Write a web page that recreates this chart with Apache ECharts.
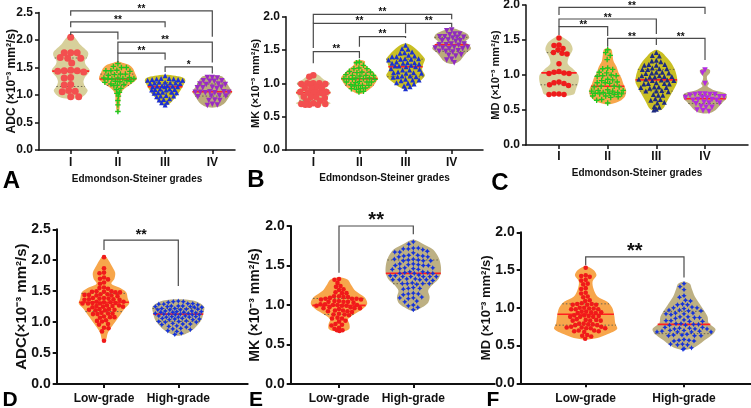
<!DOCTYPE html>
<html><head><meta charset="utf-8">
<script src="https://cdn.jsdelivr.net/npm/echarts@6/dist/echarts.min.js"></script>
<style>html,body{margin:0;padding:0;background:#fff}#c{width:751px;height:408px}</style>
</head><body><div id="c"></div>
<script>
// ---------------- categories ----------------
const gradeLabels = ['I', 'II', 'III', 'IV'];
const lhLabels = ['Low-grade', 'High-grade'];

// ---------------- Panel A: ADC by grade ----------------
const adcI = [2.05, 1.77, 1.77, 1.77, 1.68, 1.67, 1.67, 1.58, 1.45, 1.44, 1.44, 1.43, 1.42, 1.32, 1.31, 1.19, 1.18, 1.08, 1.07, 1.06, 0.97, 0.97];
const adcII = [1.57, 1.52, 1.50, 1.50, 1.45, 1.44, 1.44, 1.43, 1.38, 1.38, 1.37, 1.36, 1.32, 1.31, 1.31, 1.30, 1.30, 1.29, 1.29, 1.26, 1.25, 1.25, 1.24, 1.23, 1.20, 1.19, 1.18, 1.17, 1.12, 1.10, 1.05, 1.03, 0.98, 0.90, 0.82, 0.70];
const adcIII = [1.35, 1.30, 1.30, 1.29, 1.29, 1.28, 1.28, 1.27, 1.27, 1.23, 1.23, 1.22, 1.22, 1.22, 1.21, 1.21, 1.17, 1.17, 1.16, 1.16, 1.15, 1.15, 1.15, 1.11, 1.11, 1.10, 1.10, 1.09, 1.09, 1.05, 1.05, 1.04, 1.04, 1.03, 0.99, 0.98, 0.98, 0.97, 0.93, 0.92, 0.91, 0.87, 0.86, 0.82];
const adcIV = [1.32, 1.32, 1.31, 1.26, 1.26, 1.25, 1.25, 1.20, 1.20, 1.19, 1.19, 1.14, 1.14, 1.13, 1.13, 1.12, 1.06, 1.06, 1.05, 1.05, 1.05, 1.04, 1.04, 0.99, 0.98, 0.98, 0.97, 0.91, 0.90, 0.90, 0.83, 0.82, 0.81];
const adcIShape = [[2.10,0],[2.05,0.08],[2.0,0.13],[1.92,0.2],[1.84,0.3],[1.77,0.37],[1.70,0.36],[1.62,0.3],[1.55,0.32],[1.46,0.4],[1.40,0.38],[1.32,0.3],[1.24,0.27],[1.16,0.3],[1.08,0.36],[1.0,0.3],[0.95,0.2],[0.93,0]];
const adcIIShape = [[1.61,0],[1.58,0.12],[1.54,0.25],[1.48,0.32],[1.40,0.36],[1.32,0.4],[1.27,0.38],[1.20,0.28],[1.14,0.18],[1.08,0.1],[1.0,0.06],[0.9,0.05],[0.8,0.04],[0.72,0.03],[0.67,0]];
const adcIIIShape = [[1.37,0],[1.35,0.22],[1.31,0.4],[1.26,0.43],[1.2,0.4],[1.12,0.35],[1.05,0.3],[0.98,0.24],[0.92,0.18],[0.86,0.12],[0.80,0]];
const adcIVShape = [[1.36,0],[1.34,0.2],[1.28,0.27],[1.2,0.32],[1.12,0.38],[1.06,0.42],[1.0,0.38],[0.92,0.32],[0.85,0.26],[0.79,0.15],[0.77,0]];
// [from, to, top, left leg end, right leg end, label]
const adcBrackets = [[1,4,2.53,2.44,2.06,'**'],[1,3,2.33,2.23,2.23,'**'],[1,2,2.145,2.09,2.01,''],[2,4,1.96,1.76,1.59,'**'],[2,3,1.76,1.59,1.64,'**'],[3,4,1.51,1.42,1.39,'*']];

// ---------------- Panel B: MK by grade ----------------
const mkI = [1.12, 1.10, 1.00, 1.00, 1.00, 0.99, 0.99, 0.99, 0.94, 0.93, 0.93, 0.92, 0.87, 0.87, 0.86, 0.86, 0.86, 0.85, 0.80, 0.79, 0.79, 0.78, 0.74, 0.73, 0.70, 0.69, 0.69, 0.68, 0.68, 0.68];
const mkII = [1.32, 1.31, 1.27, 1.23, 1.22, 1.22, 1.18, 1.17, 1.17, 1.16, 1.13, 1.12, 1.12, 1.12, 1.11, 1.08, 1.08, 1.07, 1.07, 1.07, 1.06, 1.06, 1.03, 1.02, 1.02, 1.02, 1.01, 0.98, 0.97, 0.97, 0.97, 0.96, 0.93, 0.92, 0.92, 0.91, 0.88, 0.87];
const mkIII = [1.57, 1.52, 1.51, 1.47, 1.46, 1.45, 1.42, 1.41, 1.40, 1.40, 1.37, 1.37, 1.36, 1.36, 1.35, 1.32, 1.31, 1.31, 1.30, 1.30, 1.29, 1.27, 1.26, 1.26, 1.25, 1.25, 1.22, 1.21, 1.20, 1.20, 1.17, 1.16, 1.16, 1.15, 1.15, 1.11, 1.11, 1.10, 1.10, 1.09, 1.06, 1.05, 1.05, 1.04, 1.01, 1.00, 0.99, 0.96, 0.95, 0.92];
const mkIV = [1.80, 1.79, 1.74, 1.74, 1.73, 1.70, 1.70, 1.69, 1.69, 1.68, 1.65, 1.64, 1.64, 1.63, 1.59, 1.59, 1.58, 1.58, 1.57, 1.54, 1.54, 1.53, 1.53, 1.52, 1.52, 1.49, 1.48, 1.48, 1.47, 1.43, 1.42, 1.41, 1.36, 1.35, 1.31];
const mkIShape = [[1.15,0],[1.12,0.12],[1.06,0.22],[1.0,0.36],[0.94,0.28],[0.87,0.38],[0.80,0.32],[0.74,0.3],[0.70,0.38],[0.67,0.25],[0.66,0]];
const mkIIShape = [[1.35,0],[1.33,0.12],[1.28,0.12],[1.22,0.22],[1.15,0.32],[1.08,0.4],[1.02,0.36],[0.96,0.3],[0.90,0.2],[0.86,0.1],[0.84,0]];
const mkIIIShape = [[1.60,0],[1.57,0.12],[1.50,0.25],[1.42,0.36],[1.36,0.42],[1.28,0.38],[1.2,0.36],[1.12,0.42],[1.06,0.36],[1.0,0.25],[0.95,0.15],[0.91,0]];
const mkIVShape = [[1.83,0],[1.80,0.15],[1.74,0.34],[1.68,0.38],[1.63,0.3],[1.57,0.38],[1.52,0.42],[1.46,0.32],[1.40,0.25],[1.34,0.18],[1.30,0.08],[1.29,0]];
const mkBrackets = [[1,4,2.035,1.90,1.96,'**'],[1,3,1.90,1.53,1.75,'**'],[3,4,1.90,1.90,1.84,'**'],[2,3,1.70,1.55,1.68,'**'],[1,2,1.475,1.30,1.375,'**']];

// ---------------- Panel C: MD by grade ----------------
const mdI = [1.53, 1.43, 1.42, 1.38, 1.36, 1.32, 1.31, 1.30, 1.16, 1.05, 1.04, 1.03, 1.02, 1.02, 0.90, 0.89, 0.88, 0.86, 0.85, 0.73, 0.73, 0.72, 0.72];
const mdII = [1.36, 1.32, 1.28, 1.22, 1.10, 1.09, 1.08, 1.04, 1.03, 1.00, 0.99, 0.99, 0.98, 0.94, 0.93, 0.92, 0.90, 0.89, 0.89, 0.88, 0.84, 0.84, 0.83, 0.83, 0.79, 0.78, 0.78, 0.77, 0.77, 0.75, 0.75, 0.74, 0.74, 0.73, 0.73, 0.72, 0.70, 0.70, 0.69, 0.68, 0.65, 0.64, 0.60];
const mdIII = [1.32, 1.28, 1.27, 1.21, 1.20, 1.19, 1.15, 1.15, 1.14, 1.14, 1.10, 1.09, 1.09, 1.08, 1.08, 1.04, 1.04, 1.03, 1.03, 1.02, 0.99, 0.99, 0.98, 0.98, 0.97, 0.97, 0.94, 0.94, 0.93, 0.93, 0.92, 0.92, 0.89, 0.88, 0.88, 0.87, 0.87, 0.83, 0.83, 0.82, 0.82, 0.81, 0.78, 0.77, 0.77, 0.76, 0.72, 0.71, 0.71, 0.66, 0.65, 0.64, 0.61, 0.60, 0.55, 0.54, 0.51, 0.50];
const mdIV = [1.07, 1.03, 0.88, 0.73, 0.73, 0.72, 0.72, 0.72, 0.71, 0.69, 0.69, 0.68, 0.68, 0.67, 0.65, 0.65, 0.64, 0.64, 0.61, 0.60, 0.60, 0.59, 0.55, 0.54, 0.54, 0.50, 0.49, 0.48];
const mdIShape = [[1.56,0],[1.52,0.12],[1.45,0.24],[1.36,0.28],[1.25,0.2],[1.16,0.18],[1.08,0.3],[1.0,0.4],[0.9,0.4],[0.8,0.35],[0.72,0.3],[0.70,0]];
const mdIIShape = [[1.39,0],[1.36,0.08],[1.28,0.1],[1.2,0.12],[1.12,0.18],[1.04,0.22],[0.96,0.28],[0.88,0.32],[0.78,0.38],[0.7,0.36],[0.64,0.28],[0.6,0.15],[0.58,0]];
const mdIIIShape = [[1.36,0],[1.32,0.12],[1.26,0.2],[1.18,0.3],[1.08,0.38],[0.98,0.42],[0.9,0.43],[0.82,0.38],[0.72,0.3],[0.62,0.22],[0.54,0.16],[0.50,0.1],[0.49,0]];
const mdIVShape = [[1.10,0],[1.07,0.1],[1.03,0.1],[0.98,0.04],[0.92,0.05],[0.88,0.08],[0.84,0.05],[0.78,0.2],[0.74,0.42],[0.68,0.45],[0.62,0.38],[0.56,0.3],[0.50,0.22],[0.46,0.12],[0.45,0]];
const mdBrackets = [[1,4,1.967,1.857,1.87,'**'],[1,3,1.80,1.69,1.586,'**'],[1,2,1.69,1.571,1.557,'**'],[2,3,1.524,1.404,1.43,'**'],[3,4,1.524,1.524,1.214,'**']];

// ---------------- Panel D: ADC low vs high ----------------
const adcLow = [2.05, 1.87, 1.80, 1.79, 1.72, 1.70, 1.69, 1.64, 1.62, 1.56, 1.55, 1.54, 1.50, 1.50, 1.49, 1.49, 1.48, 1.48, 1.45, 1.45, 1.44, 1.44, 1.43, 1.43, 1.42, 1.39, 1.39, 1.38, 1.38, 1.37, 1.37, 1.36, 1.36, 1.33, 1.33, 1.32, 1.32, 1.31, 1.31, 1.30, 1.30, 1.30, 1.27, 1.27, 1.26, 1.26, 1.25, 1.25, 1.24, 1.21, 1.21, 1.20, 1.20, 1.19, 1.19, 1.15, 1.14, 1.14, 1.13, 1.13, 1.09, 1.08, 1.08, 1.07, 1.03, 1.02, 1.01, 0.97, 0.96, 0.91, 0.90, 0.85, 0.70];
const adcHigh = [1.34, 1.33, 1.33, 1.32, 1.30, 1.30, 1.29, 1.29, 1.28, 1.26, 1.26, 1.26, 1.25, 1.25, 1.25, 1.24, 1.24, 1.22, 1.22, 1.21, 1.21, 1.20, 1.20, 1.20, 1.18, 1.18, 1.17, 1.17, 1.16, 1.16, 1.16, 1.15, 1.14, 1.14, 1.13, 1.13, 1.13, 1.12, 1.12, 1.12, 1.10, 1.10, 1.09, 1.09, 1.08, 1.08, 1.08, 1.06, 1.06, 1.05, 1.05, 1.04, 1.04, 1.02, 1.01, 1.01, 1.00, 1.00, 0.98, 0.97, 0.97, 0.96, 0.94, 0.93, 0.92, 0.90, 0.89, 0.88, 0.86, 0.85, 0.82, 0.80];
const adcLowShape = [[2.08,0],[2.02,0.05],[1.92,0.1],[1.80,0.15],[1.70,0.14],[1.62,0.1],[1.55,0.22],[1.48,0.3],[1.38,0.32],[1.30,0.34],[1.22,0.28],[1.12,0.22],[1.02,0.16],[0.92,0.1],[0.82,0.05],[0.72,0.03],[0.68,0]];
const adcHighShape = [[1.37,0],[1.35,0.2],[1.30,0.3],[1.24,0.35],[1.15,0.34],[1.06,0.32],[0.98,0.28],[0.90,0.22],[0.84,0.15],[0.80,0.08],[0.78,0]];
const adcLHBrackets = [[1,2,2.326,2.165,1.583,'**']];

// ---------------- Panel E: MK low vs high ----------------
const mkLow = [1.33, 1.32, 1.28, 1.24, 1.23, 1.20, 1.19, 1.16, 1.15, 1.15, 1.11, 1.11, 1.10, 1.10, 1.09, 1.08, 1.08, 1.08, 1.07, 1.07, 1.05, 1.05, 1.04, 1.04, 1.04, 1.03, 1.01, 1.01, 1.00, 1.00, 1.00, 0.99, 0.99, 0.99, 0.97, 0.97, 0.96, 0.96, 0.96, 0.95, 0.93, 0.93, 0.92, 0.92, 0.91, 0.89, 0.88, 0.88, 0.87, 0.84, 0.83, 0.83, 0.80, 0.79, 0.76, 0.75, 0.74, 0.71, 0.70, 0.68, 0.68, 0.67];
const mkHigh = [1.80, 1.77, 1.72, 1.72, 1.71, 1.71, 1.70, 1.68, 1.67, 1.67, 1.66, 1.63, 1.63, 1.62, 1.62, 1.61, 1.61, 1.58, 1.58, 1.57, 1.57, 1.56, 1.56, 1.56, 1.52, 1.52, 1.51, 1.51, 1.50, 1.50, 1.50, 1.47, 1.47, 1.46, 1.46, 1.45, 1.45, 1.42, 1.42, 1.41, 1.41, 1.40, 1.40, 1.40, 1.38, 1.37, 1.37, 1.36, 1.36, 1.36, 1.36, 1.36, 1.33, 1.33, 1.32, 1.32, 1.32, 1.32, 1.31, 1.28, 1.27, 1.27, 1.27, 1.27, 1.26, 1.22, 1.21, 1.21, 1.20, 1.15, 1.14, 1.14, 1.13, 1.10, 1.09, 1.09, 1.08, 1.05, 1.04, 1.00, 0.99, 0.97, 0.94];
const mkLowShape = [[1.35,0],[1.32,0.12],[1.26,0.16],[1.18,0.22],[1.10,0.34],[1.02,0.38],[0.95,0.32],[0.88,0.2],[0.82,0.12],[0.76,0.14],[0.70,0.14],[0.67,0.08],[0.66,0]];
const mkHighShape = [[1.83,0],[1.78,0.12],[1.70,0.27],[1.60,0.34],[1.50,0.37],[1.40,0.37],[1.32,0.33],[1.25,0.25],[1.18,0.2],[1.10,0.22],[1.03,0.2],[0.97,0.12],[0.92,0]];
const mkLHBrackets = [[1,2,2.0,1.409,1.895,'**']];

// ---------------- Panel F: MD low vs high ----------------
const mdLow = [1.53, 1.43, 1.42, 1.41, 1.37, 1.36, 1.32, 1.31, 1.26, 1.25, 1.20, 1.19, 1.15, 1.14, 1.10, 1.09, 1.06, 1.05, 1.05, 1.04, 1.04, 1.04, 1.00, 1.00, 0.99, 0.99, 0.98, 0.98, 0.98, 0.95, 0.95, 0.94, 0.94, 0.93, 0.93, 0.90, 0.90, 0.89, 0.89, 0.88, 0.88, 0.88, 0.85, 0.84, 0.84, 0.83, 0.83, 0.83, 0.79, 0.79, 0.78, 0.78, 0.77, 0.77, 0.75, 0.75, 0.74, 0.74, 0.73, 0.73, 0.73, 0.70, 0.70, 0.69, 0.69, 0.68, 0.64, 0.63, 0.62, 0.59];
const mdHigh = [1.32, 1.28, 1.24, 1.16, 1.14, 1.10, 1.09, 1.05, 1.04, 1.04, 1.01, 1.00, 1.00, 0.99, 0.97, 0.97, 0.96, 0.96, 0.93, 0.93, 0.92, 0.92, 0.91, 0.88, 0.88, 0.87, 0.87, 0.86, 0.84, 0.83, 0.83, 0.82, 0.82, 0.79, 0.79, 0.78, 0.78, 0.77, 0.77, 0.74, 0.74, 0.73, 0.73, 0.72, 0.72, 0.72, 0.70, 0.70, 0.69, 0.69, 0.68, 0.68, 0.68, 0.68, 0.65, 0.64, 0.64, 0.63, 0.63, 0.63, 0.58, 0.57, 0.57, 0.56, 0.56, 0.52, 0.52, 0.51, 0.51, 0.47, 0.46, 0.45];
const mdLowShape = [[1.55,0],[1.50,0.08],[1.43,0.11],[1.35,0.07],[1.25,0.08],[1.15,0.12],[1.08,0.22],[1.0,0.27],[0.9,0.29],[0.8,0.3],[0.72,0.32],[0.65,0.22],[0.60,0.12],[0.58,0]];
const mdHighShape = [[1.35,0],[1.32,0.06],[1.25,0.08],[1.15,0.11],[1.05,0.16],[0.97,0.2],[0.88,0.24],[0.8,0.25],[0.72,0.32],[0.66,0.3],[0.58,0.22],[0.52,0.16],[0.47,0.1],[0.44,0]];
const mdLHBrackets = [[1,2,1.675,1.565,1.40,'**']];

// ---------------- styles ----------------
const FONT = "'Liberation Sans', Arial, Helvetica, sans-serif";
const KHAKI = '#d7d09b', ORANGE = '#f7a64b', OLIVE = '#c9bf24', TAN = '#baab7a', TAN2 = '#bdb083';
const PLUS = 'path://M3,0H5V3H8V5H5V8H3V5H0V3H3Z';
const STAR = 'path://M4,0L5.4,2.6L8,4L5.4,5.4L4,8L2.6,5.4L0,4L2.6,2.6Z';

const panels = [
  { L: {left:39, top:12.5, width:196, height:137.5, firstX:70.7, unit:47.2, yMax:2.5, yName:'ADC (×10⁻³ mm²/s)', yNameSize:12, yNameGap:21, tick:12, xl:12, lm:7, xName:'Edmondson-Steiner grades', xNameGap:24, aw:1.5, star:10, starOff:1.7, letter:'A', lx:11.5, ly:181, ls:24},
    cats: gradeLabels, brackets: adcBrackets,
    groups: [
      {vals:adcI, shape:adcIShape, fill:KHAKI, color:'#f34f4f', symbol:'circle', size:7},
      {vals:adcII, shape:adcIIShape, fill:ORANGE, color:'#1ec81e', symbol:PLUS, size:5.5},
      {vals:adcIII, shape:adcIIIShape, fill:OLIVE, color:'#1c2fd6', symbol:'triangle', size:5},
      {vals:adcIV, shape:adcIVShape, fill:TAN, color:'#9a2bc4', symbol:'triangle', rot:180, size:5.5}]},
  { L: {left:286, top:16.7, width:197, height:133.3, firstX:313.3, unit:46.13, yMax:2.0, yName:'MK (×10⁻³ mm²/s)', yNameSize:11, yNameGap:25, tick:12, xl:12, lm:7, xName:'Edmondson-Steiner grades', xNameGap:23, aw:1.5, star:10, starOff:2, letter:'B', lx:256, ly:180, ls:24},
    cats: gradeLabels, brackets: mkBrackets,
    groups: [
      {vals:mkI, shape:mkIShape, fill:KHAKI, color:'#f34f4f', symbol:'circle', size:6.5},
      {vals:mkII, shape:mkIIShape, fill:ORANGE, color:'#1ec81e', symbol:PLUS, size:5.5},
      {vals:mkIII, shape:mkIIIShape, fill:OLIVE, color:'#1a30d0', symbol:'triangle', size:5},
      {vals:mkIV, shape:mkIVShape, fill:TAN, color:'#8f2bbf', symbol:'triangle', rot:180, size:5.5}]},
  { L: {left:526, top:5, width:222, height:140, firstX:559, unit:48.67, yMax:2.0, yName:'MD (×10⁻³ mm²/s)', yNameSize:11, yNameGap:25, tick:12, xl:12, lm:6, xName:'Edmondson-Steiner grades', xNameGap:23, aw:1.5, star:10, starOff:1.2, letter:'C', lx:500, ly:183, ls:24},
    cats: gradeLabels, brackets: mdBrackets,
    groups: [
      {vals:mdI, shape:mdIShape, fill:KHAKI, color:'#ee1c1c', symbol:'circle', size:5.5},
      {vals:mdII, shape:mdIIShape, fill:ORANGE, color:'#1ec81e', symbol:PLUS, size:5.5},
      {vals:mdIII, shape:mdIIIShape, fill:OLIVE, color:'#1d2a80', symbol:'triangle', size:5},
      {vals:mdIV, shape:mdIVShape, fill:TAN, color:'#b32be0', symbol:'triangle', rot:180, size:5.5}]},
  { L: {left:56.7, top:229.3, width:191, height:154.7, firstX:104, unit:74.3, yMax:2.5, yName:'ADC(×10⁻³ mm²/s)', yNameSize:15, yNameGap:27, tick:14, xl:12, lm:9, aw:2, star:14, starOff:5.1, letter:'D', lx:10, ly:400, ls:21},
    cats: lhLabels, brackets: adcLHBrackets,
    groups: [
      {vals:adcLow, shape:adcLowShape, fill:ORANGE, color:'#f01a1a', symbol:'circle', size:4.6},
      {vals:adcHigh, shape:adcHighShape, fill:TAN2, color:'#1432dc', symbol:STAR, size:5.2}]},
  { L: {left:290.7, top:226, width:204, height:158, firstX:339, unit:74.3, yMax:2.0, yName:'MK (×10⁻³ mm²/s)', yNameSize:14, yNameGap:29, tick:14, xl:12, lm:9, aw:2, star:20, starOff:5.4, letter:'E', lx:256, ly:400, ls:21},
    cats: lhLabels, brackets: mkLHBrackets,
    groups: [
      {vals:mkLow, shape:mkLowShape, fill:ORANGE, color:'#f01a1a', symbol:'circle', size:4.6},
      {vals:mkHigh, shape:mkHighShape, fill:TAN2, color:'#1432dc', symbol:STAR, size:5.2}]},
  { L: {left:520.7, top:232.3, width:230, height:151, firstX:585.7, unit:98.3, yMax:2.0, yName:'MD (×10⁻³ mm²/s)', yNameSize:13, yNameGap:28, tick:14, xl:12, lm:9, aw:2, star:20, starOff:5.4, letter:'F', lx:493, ly:400, ls:21},
    cats: lhLabels, brackets: mdLHBrackets,
    groups: [
      {vals:mdLow, shape:mdLowShape, fill:ORANGE, color:'#f01a1a', symbol:'circle', size:4.6},
      {vals:mdHigh, shape:mdHighShape, fill:TAN2, color:'#1432dc', symbol:STAR, size:5.2}]}
];

// ---------------- helpers ----------------
function hwAt(profile, v) {
  for (let i = 0; i < profile.length - 1; i++) {
    const a = profile[i], b = profile[i + 1];
    if (v <= a[0] && v >= b[0]) { const t = (a[0] - v) / (a[0] - b[0]); return a[1] + (b[1] - a[1]) * t; }
  }
  return 0;
}
function quantile(sortedAsc, p) {
  const n = sortedAsc.length; let pos = (n + 1) * p - 1;
  pos = Math.max(0, Math.min(n - 1, pos));
  const lo = Math.floor(pos), hi = Math.ceil(pos);
  return sortedAsc[lo] + (sortedAsc[hi] - sortedAsc[lo]) * (pos - lo);
}
// beeswarm layout kept inside the violin outline
function swarm(g, c, L) {
  const pxV = L.height / L.yMax, d = g.size * 0.9, d2 = d * d;
  const sorted = g.vals.slice().sort((a, b) => b - a);
  const placed = [], pts = [];
  for (const v of sorted) {
    const y = v * pxV;
    const maxX = Math.max(0, hwAt(g.shape, v) * L.unit - g.size * 0.4);
    let chosen = null, best = -1, bestX = 0;
    for (let k = 0; ; k++) {
      const x = (k % 2 === 0 ? 1 : -1) * Math.ceil(k / 2) * 0.5;
      if (Math.abs(x) > maxX) { if (k > 1 && Math.ceil(k / 2) * 0.5 > maxX) break; continue; }
      let minD = Infinity;
      for (const p of placed) { const dx = p[0] - x, dy = p[1] - y; const dd = dx * dx + dy * dy; if (dd < minD) minD = dd; }
      if (minD >= d2) { chosen = x; break; }
      if (minD > best) { best = minD; bestX = x; }
    }
    if (chosen === null) chosen = bestX;
    placed.push([chosen, y]);
    pts.push([c + chosen / L.unit, v]);
  }
  return pts;
}

// ---------------- build option ----------------
const grids = [], xAxes = [], yAxes = [], series = [], graphics = [];
panels.forEach((P, pi) => {
  const L = P.L;
  const xMin = 1 - (L.firstX - L.left) / L.unit, xMax = xMin + L.width / L.unit;
  const catVals = P.cats.map((_, i) => i + 1);
  grids.push({left: L.left, top: L.top, width: L.width, height: L.height, containLabel: false, outerBoundsMode: 'none'});
  const axisLine = {show: true, lineStyle: {color: '#111', width: L.aw}};
  xAxes.push({
    type: 'value', gridIndex: pi, min: xMin, max: xMax, splitLine: {show: false},
    axisLine: Object.assign({onZero: false}, axisLine),
    axisTick: {show: true, customValues: catVals, length: 4, lineStyle: {color: '#111', width: L.aw}},
    axisLabel: {customValues: catVals, margin: L.lm, fontSize: L.xl, fontWeight: 'bold', color: '#111', fontFamily: FONT,
      formatter: v => P.cats[Math.round(v) - 1] || ''},
    name: L.xName || '', nameLocation: 'middle', nameGap: L.xNameGap || 0, nameMoveOverlap: false,
    nameTextStyle: {fontSize: 10, fontWeight: 'bold', color: '#111', fontFamily: FONT}
  });
  yAxes.push({
    type: 'value', gridIndex: pi, min: 0, max: L.yMax, interval: 0.5, splitLine: {show: false},
    axisLine: Object.assign({onZero: false}, axisLine),
    axisTick: {show: true, length: 4, lineStyle: {color: '#111', width: L.aw}},
    axisLabel: {margin: 6, fontSize: L.tick, fontWeight: 'bold', color: '#111', fontFamily: FONT, formatter: v => v.toFixed(1)},
    name: L.yName, nameLocation: 'middle', nameGap: L.yNameGap, nameRotate: 90, nameMoveOverlap: false,
    nameTextStyle: {fontSize: L.yNameSize, fontWeight: 'bold', color: '#111', fontFamily: FONT}
  });
  // violins
  series.push({
    type: 'custom', xAxisIndex: pi, yAxisIndex: pi, z: 1, silent: true, clip: false,
    data: P.groups.map((g, i) => [i + 1, g.shape[0][0]]),
    renderItem(params, api) {
      const g = P.groups[params.dataIndex], c = params.dataIndex + 1;
      const right = g.shape.map(p => api.coord([c + p[1], p[0]]));
      const left = g.shape.slice(1, -1).reverse().map(p => api.coord([c - p[1], p[0]]));
      return {type: 'polygon', shape: {points: right.concat(left), smooth: 0.3}, style: {fill: g.fill, stroke: null}};
    }
  });
  // median & quartiles
  series.push({
    type: 'custom', xAxisIndex: pi, yAxisIndex: pi, z: 2, silent: true, clip: false,
    data: P.groups.map((g, i) => [i + 1, g.shape[0][0]]),
    renderItem(params, api) {
      const g = P.groups[params.dataIndex], c = params.dataIndex + 1;
      const s = g.vals.slice().sort((a, b) => a - b);
      const kids = [];
      [[0.25, 'q'], [0.75, 'q'], [0.5, 'm']].forEach(([p, kind]) => {
        const v = quantile(s, p), hw = hwAt(g.shape, v);
        const a = api.coord([c - hw, v]), b = api.coord([c + hw, v]);
        kids.push({type: 'line', shape: {x1: a[0], y1: a[1], x2: b[0], y2: b[1]},
          style: kind === 'm' ? {stroke: '#ff2020', lineWidth: 1.6} : {stroke: '#6a6550', lineWidth: 1, lineDash: [1.5, 2]}});
      });
      return {type: 'group', children: kids};
    }
  });
  // points
  P.groups.forEach((g, i) => {
    series.push({
      type: 'scatter', xAxisIndex: pi, yAxisIndex: pi, z: 3, silent: true,
      symbol: g.symbol, symbolSize: g.size, symbolRotate: g.rot || 0,
      itemStyle: {color: g.color, opacity: 1},
      data: swarm(g, i + 1, L)
    });
  });
  // significance brackets
  series.push({
    type: 'custom', xAxisIndex: pi, yAxisIndex: pi, z: 4, silent: true, clip: false,
    data: P.brackets.map(b => [b[0], b[2]]),
    renderItem(params, api) {
      const b = P.brackets[params.dataIndex];
      const pL = api.coord([b[0], b[3]]), tL = api.coord([b[0], b[2]]), tR = api.coord([b[1], b[2]]), pR = api.coord([b[1], b[4]]);
      const kids = [{type: 'polyline', shape: {points: [pL, tL, tR, pR]}, style: {stroke: '#4a4a4a', lineWidth: 1.2, fill: null}}];
      if (b[5]) kids.push({type: 'text', x: (tL[0] + tR[0]) / 2, y: tL[1] - L.starOff,
        style: {text: b[5], fontSize: L.star, fontWeight: 'bold', fill: '#111', fontFamily: FONT, align: 'center', verticalAlign: 'middle'}});
      return {type: 'group', children: kids};
    }
  });
  graphics.push({type: 'text', x: L.lx, y: L.ly, style: {text: L.letter, fontSize: L.ls, fontWeight: 'bold', fill: '#000', fontFamily: FONT, align: 'center', verticalAlign: 'middle'}});
});

const chart = echarts.init(document.getElementById('c'), null, {renderer: 'canvas'});
chart.setOption({
  animation: false, backgroundColor: '#fff',
  grid: grids, xAxis: xAxes, yAxis: yAxes, series: series,
  graphic: graphics
});
</script></body></html>
